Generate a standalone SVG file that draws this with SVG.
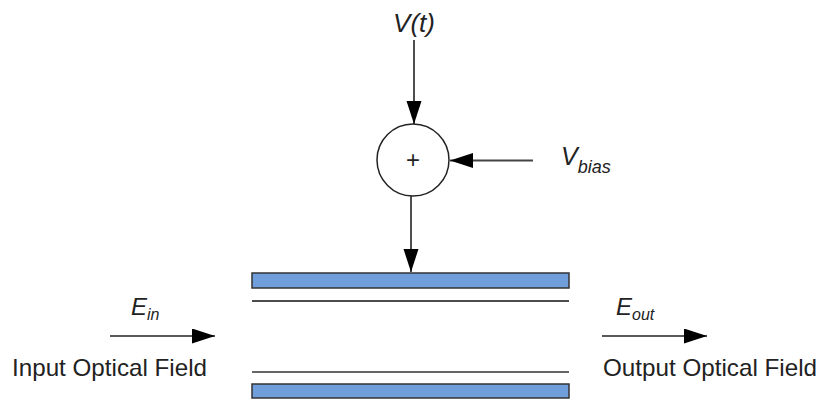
<svg xmlns="http://www.w3.org/2000/svg" width="819" height="403" viewBox="0 0 819 403">
<style>
text{font-family:"Liberation Sans",Arial,sans-serif;fill:#222}
.it{font-style:italic}
.ln{stroke:#222;stroke-width:1.6;fill:none}
.bar{fill:#6f9edb;stroke:#333;stroke-width:1.5}
</style>
<defs>
<marker id="ah" markerUnits="userSpaceOnUse" markerWidth="24" markerHeight="16" refX="23" refY="7.5" orient="auto">
<path d="M0,0 L23,7.5 L0,15 Z" fill="#000"/>
</marker>
</defs>
<rect width="819" height="403" fill="#fff"/>
<g id="vt-label"><text class="it" x="414" y="32" font-size="26" text-anchor="middle">V(t)</text></g>
<g id="adder">
<circle cx="413" cy="160" r="36" fill="#fff" stroke="#222" stroke-width="1.5"/>
<text x="413" y="168" font-size="24" text-anchor="middle">+</text>
</g>
<g id="vbias-label"><text class="it" x="561" y="165" font-size="25">V<tspan font-size="18" dy="8">bias</tspan></text></g>
<g id="modulator">
<rect class="bar" x="252" y="273" width="317" height="15"/>
<line x1="252" y1="301" x2="569" y2="301" stroke="#111" stroke-width="1.6"/>
<line x1="252" y1="372" x2="569" y2="372" stroke="#666" stroke-width="2"/>
<rect class="bar" x="252" y="384" width="317" height="14"/>
</g>
<g id="input">
<text class="it" x="131" y="315" font-size="24">E<tspan font-size="16" dy="5">in</tspan></text>
<text x="12" y="376" font-size="24" textLength="195" lengthAdjust="spacingAndGlyphs">Input Optical Field</text>
</g>
<g id="output">
<text class="it" x="616" y="315" font-size="24">E<tspan font-size="16" dy="5">out</tspan></text>
<text x="603" y="376" font-size="24" textLength="214" lengthAdjust="spacingAndGlyphs">Output Optical Field</text>
</g>
<g id="connectors">
<line class="ln" x1="414" y1="40" x2="414" y2="124" marker-end="url(#ah)"/>
<line x1="533" y1="160.5" x2="450" y2="160.5" stroke="#444" stroke-width="2" marker-end="url(#ah)"/>
<line class="ln" x1="411" y1="196" x2="411" y2="272" marker-end="url(#ah)"/>
<line class="ln" x1="110" y1="336" x2="215" y2="336" marker-end="url(#ah)"/>
<line class="ln" x1="602" y1="336" x2="707" y2="336" marker-end="url(#ah)"/>
</g>
</svg>
